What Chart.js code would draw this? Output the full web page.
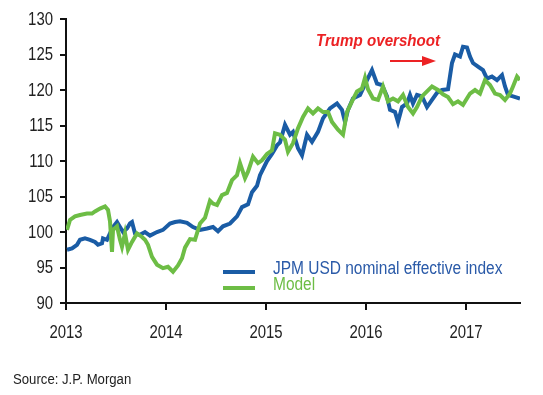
<!DOCTYPE html>
<html>
<head>
<meta charset="utf-8">
<script src="https://cdn.jsdelivr.net/npm/chart.js@4.4.0/dist/chart.umd.min.js"></script>
<style>
  html, body { margin: 0; padding: 0; background: #fff; }
  #wrap { position: relative; width: 543px; height: 395px; }
</style>
</head>
<body>
<div id="wrap"><canvas id="graph"></canvas></div>
<script>
// values (decimal years)
const jpmYears = [2013.01, 2013.06, 2013.11, 2013.14, 2013.19, 2013.24, 2013.29, 2013.32, 2013.36, 2013.37,
    2013.41, 2013.44, 2013.47, 2013.51, 2013.54, 2013.57, 2013.61, 2013.64, 2013.66, 2013.69,
    2013.74, 2013.79, 2013.84, 2013.91, 2013.97, 2014.04, 2014.09, 2014.14, 2014.21, 2014.27,
    2014.34, 2014.41, 2014.47, 2014.52, 2014.57, 2014.64, 2014.71, 2014.76, 2014.82, 2014.86,
    2014.91, 2014.94, 2015.01, 2015.06, 2015.11, 2015.14, 2015.19, 2015.24, 2015.27, 2015.32,
    2015.36, 2015.41, 2015.46, 2015.52, 2015.57, 2015.64, 2015.71, 2015.76, 2015.79, 2015.82,
    2015.87, 2015.94, 2016.01, 2016.06, 2016.11, 2016.16, 2016.21, 2016.24, 2016.29, 2016.32,
    2016.36, 2016.41, 2016.44, 2016.47, 2016.51, 2016.56, 2016.61, 2016.66, 2016.71, 2016.76,
    2016.82, 2016.86, 2016.89, 2016.94, 2016.97, 2017.01, 2017.04, 2017.07, 2017.12, 2017.17,
    2017.21, 2017.26, 2017.31, 2017.36, 2017.39, 2017.42, 2017.47, 2017.54];
const jpmValues = [97.5, 97.7, 98.2, 98.9, 99.1, 98.9, 98.6, 98.2, 98.4, 99.1,
    98.9, 99.8, 100.7, 101.4, 100.7, 100.0, 100.5, 101.2, 101.4, 99.8,
    99.6, 100.0, 99.5, 100.0, 100.3, 101.2, 101.4, 101.5, 101.3, 100.7,
    100.3, 100.5, 100.7, 100.1, 100.8, 101.2, 102.2, 103.5, 103.9, 105.6,
    106.5, 108.0, 110.0, 111.0, 112.2, 112.6, 115.1, 113.7, 114.1, 111.8,
    110.8, 113.7, 112.7, 114.1, 116.0, 117.4, 118.1, 117.2, 115.5, 117.2,
    118.8, 119.3, 121.4, 122.8, 120.9, 120.7, 119.1, 117.2, 116.9, 115.5,
    117.6, 118.1, 119.3, 118.1, 119.3, 119.1, 117.6, 118.6, 119.6, 120.0,
    120.1, 123.8, 125.0, 124.7, 126.1, 126.0, 124.7, 123.8, 123.3, 122.8,
    121.6, 121.9, 121.4, 122.1, 120.5, 119.3, 119.1, 118.8];

const modelYears = [2013.01, 2013.04, 2013.09, 2013.14, 2013.21, 2013.26, 2013.29, 2013.34, 2013.39, 2013.42,
    2013.44, 2013.46, 2013.47, 2013.51, 2013.54, 2013.56, 2013.59, 2013.62, 2013.66, 2013.71,
    2013.76, 2013.79, 2013.82, 2013.86, 2013.91, 2013.97, 2014.02, 2014.07, 2014.12, 2014.16,
    2014.19, 2014.24, 2014.29, 2014.34, 2014.39, 2014.44, 2014.47, 2014.51, 2014.56, 2014.61,
    2014.66, 2014.71, 2014.74, 2014.79, 2014.82, 2014.87, 2014.92, 2014.96, 2015.01, 2015.06,
    2015.09, 2015.14, 2015.19, 2015.22, 2015.27, 2015.32, 2015.37, 2015.42, 2015.47, 2015.52,
    2015.57, 2015.62, 2015.66, 2015.72, 2015.77, 2015.81, 2015.86, 2015.91, 2015.96, 2015.99,
    2016.02, 2016.07, 2016.12, 2016.17, 2016.22, 2016.27, 2016.32, 2016.37, 2016.42, 2016.47,
    2016.51, 2016.56, 2016.61, 2016.66, 2016.72, 2016.77, 2016.82, 2016.87, 2016.92, 2016.97,
    2017.04, 2017.09, 2017.14, 2017.19, 2017.24, 2017.29, 2017.34, 2017.39, 2017.44, 2017.47,
    2017.51, 2017.54];
const modelValues = [100.3, 101.7, 102.2, 102.4, 102.6, 102.6, 102.9, 103.3, 103.6, 103.1,
    101.5, 97.2, 100.3, 100.8, 98.9, 97.9, 99.8, 97.5, 98.6, 99.8,
    99.3, 98.9, 98.2, 96.5, 95.4, 94.9, 95.1, 94.4, 95.3, 96.3,
    97.8, 99.0, 98.9, 101.2, 102.0, 104.4, 104.0, 103.8, 105.2, 105.5,
    107.3, 108.0, 109.7, 107.6, 108.5, 110.6, 109.7, 110.1, 111.0, 111.5,
    113.9, 113.7, 113.0, 111.3, 112.5, 114.6, 116.2, 117.4, 116.7, 117.4,
    116.9, 116.9, 115.5, 114.4, 113.7, 116.9, 118.4, 119.8, 120.2, 121.7,
    120.1, 118.8, 118.6, 120.5, 118.4, 118.8, 118.4, 119.3, 117.6, 116.7,
    117.6, 119.1, 119.8, 120.5, 120.0, 119.4, 119.0, 118.0, 118.4, 117.9,
    119.5, 120.0, 119.5, 121.4, 120.7, 119.5, 119.3, 118.6, 119.5, 120.5,
    121.9, 121.4];

const seriesLabels = ['JPM USD nominal effective index', 'Model'];
const yTicks = { min: 90, max: 130, step: 5 };
const xRange = { min: 2013, max: 2017.54 };
const annotationText = 'Trump overshoot';
const sourceText = 'Source: J.P. Morgan';

const BLUE = '#1a5ca5';
const GREEN = '#6dbd45';
const RED = '#ec2224';
const FONT = '"Liberation Sans", Arial, sans-serif';

Chart.defaults.font.family = FONT;
Chart.defaults.color = '#222';

function toPoints(xs, ys) {
    return xs.map((x, i) => ({ x: x, y: ys[i] }));
}

// text squeezed horizontally to look like a narrow face
function narrowText(ctx, text, x, y, squeeze, align) {
    ctx.save();
    ctx.translate(x, y);
    ctx.scale(squeeze, 1);
    ctx.textAlign = align || 'left';
    ctx.fillText(text, 0, 0);
    ctx.restore();
}

// tick labels, legend, annotation and source line drawn on the canvas
const extras = {
    id: 'extras',
    afterDraw(chart) {
        const ctx = chart.ctx;
        const xs = chart.scales.x;
        const ys = chart.scales.y;
        ctx.save();

        // tick labels
        ctx.fillStyle = '#222';
        ctx.font = '18px ' + FONT;
        ctx.textBaseline = 'middle';
        ys.ticks.forEach(t => {
            narrowText(ctx, String(t.value), 53, ys.getPixelForValue(t.value) + 1, 0.83, 'right');
        });
        xs.ticks.forEach(t => {
            narrowText(ctx, String(t.value), xs.getPixelForValue(t.value), 333, 0.83, 'center');
        });

        // legend
        const sets = chart.data.datasets;
        const rows = [272, 288];
        ctx.font = '18px ' + FONT;
        sets.forEach((ds, i) => {
            ctx.strokeStyle = ds.borderColor;
            ctx.lineWidth = 4;
            ctx.beginPath();
            ctx.moveTo(223, rows[i]);
            ctx.lineTo(255, rows[i]);
            ctx.stroke();
            ctx.fillStyle = i === 0 ? '#2a5aa8' : ds.borderColor;
            narrowText(ctx, ds.label, 273, rows[i] - 3, 0.86);
        });

        // Trump overshoot note
        ctx.fillStyle = RED;
        ctx.font = 'italic bold 17px ' + FONT;
        ctx.textBaseline = 'alphabetic';
        narrowText(ctx, annotationText, xs.getPixelForValue(2015.5), ys.getPixelForValue(126.2), 0.89);

        const ay = ys.getPixelForValue(124.1);
        const ax0 = xs.getPixelForValue(2016.24);
        const ax1 = xs.getPixelForValue(2016.70);
        ctx.strokeStyle = RED;
        ctx.lineWidth = 2;
        ctx.beginPath();
        ctx.moveTo(ax0, ay);
        ctx.lineTo(ax1 - 10, ay);
        ctx.stroke();
        ctx.beginPath();
        ctx.moveTo(ax1, ay);
        ctx.lineTo(ax1 - 14, ay - 5);
        ctx.lineTo(ax1 - 14, ay + 5);
        ctx.closePath();
        ctx.fill();

        // source
        ctx.fillStyle = '#222';
        ctx.font = '14px ' + FONT;
        ctx.textBaseline = 'middle';
        narrowText(ctx, sourceText, 13, 380, 0.94);
        ctx.restore();
    }
};

new Chart(document.getElementById('graph').getContext('2d'), {
    type: 'line',
    data: {
        datasets: [{
            label: seriesLabels[0],
            data: toPoints(jpmYears, jpmValues),
            borderColor: BLUE,
            borderWidth: 4,
            pointRadius: 0,
            tension: 0,
            order: 2
        }, {
            label: seriesLabels[1],
            data: toPoints(modelYears, modelValues),
            borderColor: GREEN,
            borderWidth: 4,
            pointRadius: 0,
            tension: 0,
            order: 1
        }]
    },
    options: {
        responsive: true,
        maintainAspectRatio: false,
        animation: false,
        layout: { padding: { top: 19, right: 23, left: 0, bottom: 0 } },
        plugins: {
            legend: { display: false },
            tooltip: { enabled: false }
        },
        scales: {
            x: {
                type: 'linear',
                min: xRange.min,
                max: xRange.max,
                afterFit: s => { s.height = 92; },
                border: { display: true, color: '#111', width: 2 },
                grid: { drawOnChartArea: false, color: '#111', lineWidth: 2, tickLength: 7 },
                ticks: {
                    stepSize: 1,
                    includeBounds: false,
                    display: false
                }
            },
            y: {
                min: yTicks.min,
                max: yTicks.max,
                afterFit: s => { s.width = 66; },
                border: { display: true, color: '#111', width: 2 },
                grid: { drawOnChartArea: false, color: '#111', lineWidth: 2, tickLength: 6 },
                ticks: {
                    stepSize: yTicks.step,
                    display: false
                }
            }
        }
    },
    plugins: [extras]
});
</script>
</body>
</html>
